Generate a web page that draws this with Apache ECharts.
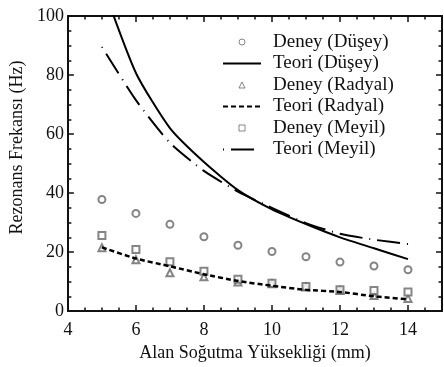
<!DOCTYPE html>
<html>
<head>
<meta charset="utf-8">
<script src="https://cdn.jsdelivr.net/npm/echarts@6/dist/echarts.min.js"></script>
<style>
  html, body { margin: 0; padding: 0; background: #fff; }
  #chart { width: 444px; height: 367px; }
</style>
</head>
<body>
<div id="chart"></div>
<script>
'use strict';

// cooling height (mm)
var xVals = [5, 6, 7, 8, 9, 10, 11, 12, 13, 14];

// resonance frequency (Hz)
var deneyDusey  = [37.8, 33.1, 29.4, 25.2, 22.3, 20.2, 18.4, 16.6, 15.3, 14.0];
var teoriDusey  = [111, 80.7, 62, 50.5, 41, 34.5, 29.5, 25, 21.3, 17.6];
var deneyRadyal = [21.5, 17.4, 13.0, 11.6, 9.9, 9.3, 8.2, 7.0, 5.3, 4.3];
var teoriRadyal = [21.6, 17.8, 15.2, 12.5, 10.2, 8.6, 7.2, 6.5, 5.0, 4.0];
var deneyMeyil  = [25.6, 20.9, 16.7, 13.5, 10.8, 9.4, 8.3, 7.2, 7.0, 6.5];
var teoriMeyil  = [89.5, 71.5, 57, 47.5, 40.5, 35, 29.8, 26.2, 24.2, 22.7];

var seriesNames = ['Deney (Düşey)', 'Teori (Düşey)', 'Deney (Radyal)',
                   'Teori (Radyal)', 'Deney (Meyil)', 'Teori (Meyil)'];

function pairs(ys) {
    var out = [];
    for (var i = 0; i < xVals.length; i++) {
        out.push([xVals[i], ys[i]]);
    }
    return out;
}

var font = '"Liberation Serif", "DejaVu Serif", serif';
var ink = '#111';
var markerInk = '#666';
var noDot = { color: 'rgba(0,0,0,0)', borderWidth: 0 };
var hollow = { color: '#fff', borderColor: markerInk, borderWidth: 1 };

// legend icons: the two move-to points fix the 38x6 box, so the marker keeps its shape
var triIcon = 'path://M0,0M38,6M16,6L19,0L22,6Z';
var sqIcon = 'path://M0,0M38,6M16,0L22,0L22,6L16,6Z';

function frameAxis(pos, isX) {
    var ax = {
        type: 'value',
        position: pos,
        axisLine: { show: true, onZero: false, lineStyle: { color: ink, width: 2 } },
        axisTick: { show: true, inside: true, length: 6, lineStyle: { color: ink, width: 1.5 } },
        minorTick: { show: true, splitNumber: 4, length: 3.5, lineStyle: { color: ink, width: 1.5 } },
        splitLine: { show: false },
        axisLabel: { show: false }
    };
    if (isX) {
        ax.min = 4; ax.max = 15; ax.interval = 2;
    } else {
        ax.min = 0; ax.max = 100; ax.interval = 20;
    }
    return ax;
}

var chart = echarts.init(document.getElementById('chart'));

var xBottom = frameAxis('bottom', true);
xBottom.axisLabel = { show: true, showMaxLabel: false, margin: 10, fontFamily: font, fontSize: 18, color: ink };
xBottom.name = 'Alan Soğutma Yüksekliği (mm)';
xBottom.nameLocation = 'middle';
xBottom.nameGap = 31;
xBottom.nameTextStyle = { fontFamily: font, fontSize: 18, color: ink };

var yLeft = frameAxis('left', false);
yLeft.axisLabel = { show: true, margin: 4, fontFamily: font, fontSize: 18, color: ink };
yLeft.name = 'Rezonans Frekansı (Hz)';
yLeft.nameLocation = 'middle';
yLeft.nameGap = 32;
yLeft.nameTextStyle = { fontFamily: font, fontSize: 18, color: ink, padding: [0, 0, 0, 32] };

var options = {
    animation: false,
    backgroundColor: '#fff',
    grid: { left: 62, right: 2, top: 16, bottom: 46, containLabel: false },
    xAxis: [xBottom, frameAxis('top', true)],
    yAxis: [yLeft, frameAxis('right', false)],
    legend: {
        orient: 'vertical',
        left: 222,
        top: 32,
        padding: 0,
        itemWidth: 38,
        itemHeight: 6,
        itemGap: 1.5,
        data: [
            { name: seriesNames[0], icon: 'circle', itemStyle: hollow },
            { name: seriesNames[1] },
            { name: seriesNames[2], icon: triIcon, itemStyle: hollow },
            { name: seriesNames[3] },
            { name: seriesNames[4], icon: sqIcon, itemStyle: hollow },
            { name: seriesNames[5] }
        ],
        textStyle: { fontFamily: font, fontSize: 19, color: ink, lineHeight: 20, padding: [0, 0, 0, 7] }
    },
    series: [
        {
            name: seriesNames[0],
            type: 'scatter',
            symbol: 'emptyCircle',
            symbolSize: 7,
            itemStyle: { color: markerInk, borderWidth: 1 },
            data: pairs(deneyDusey)
        },
        {
            name: seriesNames[1],
            type: 'line',
            symbol: 'none',
            smooth: 0.2,
            lineStyle: { color: '#000', width: 2 },
            itemStyle: noDot,
            data: pairs(teoriDusey)
        },
        {
            name: seriesNames[2],
            type: 'scatter',
            symbol: 'emptyTriangle',
            symbolSize: 7,
            itemStyle: { color: markerInk, borderWidth: 1 },
            data: pairs(deneyRadyal)
        },
        {
            name: seriesNames[3],
            type: 'line',
            symbol: 'none',
            smooth: 0.2,
            lineStyle: { color: '#000', width: 2.5, type: [5, 3] },
            itemStyle: noDot,
            data: pairs(teoriRadyal)
        },
        {
            name: seriesNames[4],
            type: 'scatter',
            symbol: 'emptyRect',
            symbolSize: 7,
            itemStyle: { color: markerInk, borderWidth: 1 },
            data: pairs(deneyMeyil)
        },
        {
            name: seriesNames[5],
            type: 'line',
            symbol: 'none',
            smooth: 0.2,
            lineStyle: { color: '#000', width: 2, type: [23, 7, 1, 7], dashOffset: 30 },
            itemStyle: noDot,
            data: pairs(teoriMeyil)
        }
    ]
};

chart.setOption(options);
</script>
</body>
</html>
